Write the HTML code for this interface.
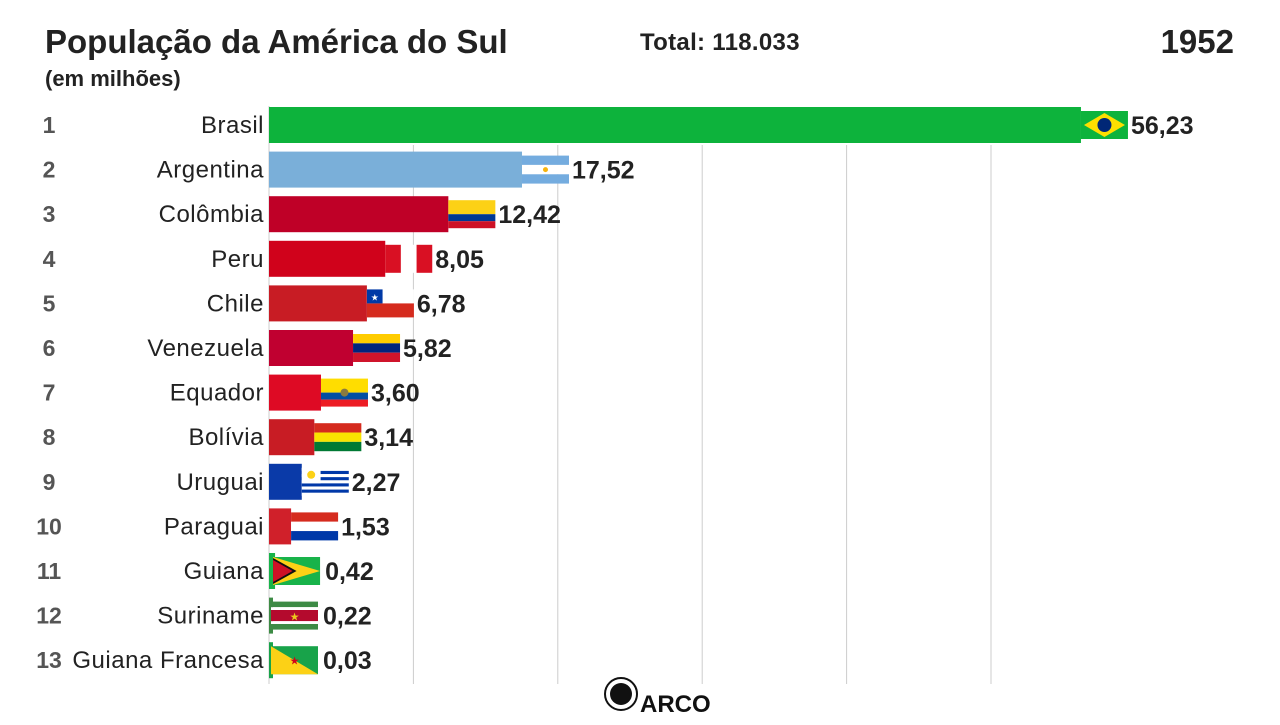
<!DOCTYPE html>
<html><head><meta charset="utf-8"><style>
body{margin:0;background:#fff;font-family:"Liberation Sans",sans-serif;}
svg text{font-family:"Liberation Sans",sans-serif;}
</style></head><body>
<svg id="c" width="1280" height="720" xmlns="http://www.w3.org/2000/svg">
<text x="45" y="53" font-size="33" font-weight="bold" fill="#222">População da América do Sul</text>
<text x="45" y="86" font-size="22" font-weight="bold" fill="#222">(em milhões)</text>
<text x="640" y="50" font-size="24" font-weight="bold" fill="#222" letter-spacing="0.3">Total: 118.033</text>
<text x="1234" y="53" font-size="33" font-weight="bold" fill="#222" text-anchor="end">1952</text>
<g id="grid"></g><g id="bars"></g>
<g>
<circle cx="621" cy="694" r="16" fill="none" stroke="#111" stroke-width="2"/>
<circle cx="621" cy="694" r="11" fill="#111"/>
<text x="640" y="712" font-size="24" font-weight="bold" fill="#111">ARCO</text>
</g>
</svg>
<script>
const countries=["Brasil","Argentina","Colômbia","Peru","Chile","Venezuela","Equador","Bolívia","Uruguai","Paraguai","Guiana","Suriname","Guiana Francesa"];
const values=[56.23,17.52,12.42,8.05,6.78,5.82,3.60,3.14,2.27,1.53,0.42,0.22,0.03];
const ticks=[10,20,30,40,50];
const colors=["#0db33c","#7aafd9","#bf0027","#d0021b","#c81c24","#c00030","#de0a24","#c81c24","#0a3aa8","#d0202a","#18b34a","#3d8b45","#18a34a"];
const NS="http://www.w3.org/2000/svg";
const x0=269,k=14.44,y0=125,dy=44.6;
const X=v=>x0+v*k, Y=i=>y0+i*dy;
function el(t,a,p){const e=document.createElementNS(NS,t);for(const q in a)e.setAttribute(q,a[q]);p.appendChild(e);return e;}
const grid=document.getElementById('grid'),bars=document.getElementById('bars');
ticks.forEach(t=>{const l=el('line',{x1:X(t),x2:X(t),y1:145,y2:684,stroke:'#ccc','stroke-width':1},grid);

});
const base=el('line',{x1:x0,x2:x0,y1:106,y2:684,stroke:'#ccc','stroke-width':1},grid);


function flag(i,g,x,y,w,h){
 const r=(a,b,c,d,f)=>el('rect',{x:x+a*w,y:y+b*h,width:c*w,height:d*h,fill:f},g);
 switch(i){
 case 0:r(0,0,1,1,'#0db33c');el('polygon',{points:`${x+3},${y+h/2} ${x+w/2},${y+2} ${x+w-3},${y+h/2} ${x+w/2},${y+h-2}`,fill:'#fedf00'},g);el('circle',{cx:x+w/2,cy:y+h/2,r:h*0.25,fill:'#002776'},g);break;
 case 1:r(0,0,1,1/3,'#74acdf');r(0,1/3,1,1/3,'#fff');r(0,2/3,1,1/3,'#74acdf');el('circle',{cx:x+w/2,cy:y+h/2,r:2.5,fill:'#f6b40e'},g);break;
 case 2:r(0,0,1,.5,'#fcd116');r(0,.5,1,.25,'#003893');r(0,.75,1,.25,'#ce1126');break;
 case 3:r(0,0,1/3,1,'#d91023');r(1/3,0,1/3,1,'#fff');r(2/3,0,1/3,1,'#d91023');break;
 case 4:r(0,0,1,.5,'#fff');r(0,.5,1,.5,'#d52b1e');r(0,0,1/3,.5,'#0039a6');el('text',{x:x+w/6,y:y+h*0.4,'font-size':9,fill:'#fff','text-anchor':'middle'},g).textContent='★';break;
 case 5:r(0,0,1,1/3,'#ffcc00');r(0,1/3,1,1/3,'#00247d');r(0,2/3,1,1/3,'#cf142b');break;
 case 6:r(0,0,1,.5,'#ffdd00');r(0,.5,1,.25,'#034ea2');r(0,.75,1,.25,'#ed1c24');el('circle',{cx:x+w/2,cy:y+h/2,r:4,fill:'#8a7a40'},g);break;
 case 7:r(0,0,1,1/3,'#d52b1e');r(0,1/3,1,1/3,'#f9e300');r(0,2/3,1,1/3,'#007934');break;
 case 8:r(0,0,1,1,'#fff');for(let s=1;s<9;s+=2)r(0,s/9,1,1/9,'#0038a8');r(0,0,.4,5/9,'#fff');el('circle',{cx:x+w*.2,cy:y+h*.25,r:4,fill:'#fcd116'},g);break;
 case 9:r(0,0,1,1/3,'#d52b1e');r(0,1/3,1,1/3,'#fff');r(0,2/3,1,1/3,'#0038a8');break;
 case 10:r(0,0,1,1,'#18b34a');el('polygon',{points:`${x},${y} ${x+w},${y+h/2} ${x},${y+h}`,fill:'#fcd116'},g);el('polygon',{points:`${x},${y+1} ${x+w/2},${y+h/2} ${x},${y+h-1}`,fill:'#111'},g);el('polygon',{points:`${x},${y+3} ${x+w/2-4},${y+h/2} ${x},${y+h-3}`,fill:'#ce1126'},g);break;
 case 11:r(0,0,1,.2,'#3d8b45');r(0,.2,1,.1,'#fff');r(0,.3,1,.4,'#b40a2d');r(0,.7,1,.1,'#fff');r(0,.8,1,.2,'#3d8b45');el('text',{x:x+w/2,y:y+h*.68,'font-size':11,fill:'#ecc81d','text-anchor':'middle'},g).textContent='★';break;
 case 12:r(0,0,1,1,'#18a34a');el('polygon',{points:`${x},${y} ${x+w},${y+h} ${x},${y+h}`,fill:'#fcd116'},g);el('text',{x:x+w/2,y:y+h*.65,'font-size':11,fill:'#d0021b','text-anchor':'middle'},g).textContent='★';break;
 }
}
countries.forEach((c,i)=>{
 const y=Y(i),bx=X(values[i]);
 const g=el('g',{},bars);
 
 
 el('rect',{x:x0,y:y-18,width:Math.max(bx-x0,4),height:36,fill:colors[i]},g);
 const fh=28,fw=47;
 flag(i,g,Math.max(bx,x0+4)-(i>=10?2:0),y-fh/2,fw,fh);
 const rk=el('text',{x:49,y:y+8,'font-size':23,'font-weight':'bold',fill:'#555','text-anchor':'middle'},g);rk.textContent=i+1;
 
 
 const lb=el('text',{x:264,y:y+8,'font-size':24,'letter-spacing':0.5,fill:'#222','text-anchor':'end'},g);lb.textContent=c;
 
 
 const vl=el('text',{x:Math.max(bx,x0+4)+fw+3,y:y+9,'font-size':25,'font-weight':'bold',fill:'#222'},g);vl.textContent=values[i].toFixed(2).replace('.',',');
 
 
});
</script>
</body></html>
